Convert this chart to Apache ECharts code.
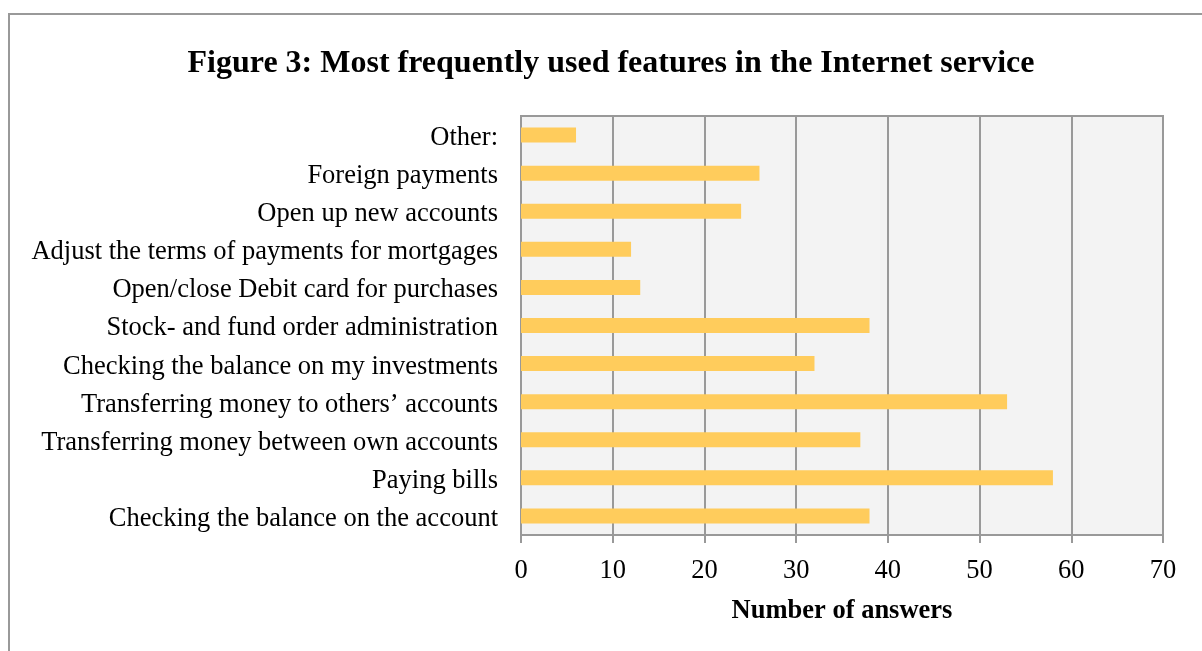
<!DOCTYPE html>
<html><head><meta charset="utf-8">
<script src="https://cdn.jsdelivr.net/npm/echarts@6/dist/echarts.min.js"></script>
<style>html,body{margin:0;padding:0;background:#fff}#c{width:1202px;height:651px}</style>
</head><body><div id="c"></div>
<script>
const categories = [
  "Checking the balance on the account",
  "Paying bills",
  "Transferring money between own accounts",
  "Transferring money to others\u2019 accounts",
  "Checking the balance on my investments",
  "Stock- and fund order administration",
  "Open/close Debit card for purchases",
  "Adjust the terms of payments for mortgages",
  "Open up new accounts",
  "Foreign payments",
  "Other:"
];
const answers = [38, 58, 37, 53, 32, 38, 13, 12, 24, 26, 6];
const xTicks = { min: 0, max: 70, interval: 10 };

const font = "'Liberation Serif', 'Times New Roman', serif";
const chart = echarts.init(document.getElementById('c'), null, { renderer: 'canvas' });
chart.setOption({
  animation: false,
  backgroundColor: '#fff',
  graphic: [{
    type: 'rect', z: -1,
    shape: { x: 9, y: 14, width: 1300, height: 700 },
    style: { fill: 'none', stroke: '#999', lineWidth: 2 }
  }],
  title: {
    text: 'Figure 3: Most frequently used features in the Internet service',
    left: 606, top: 43, textAlign: 'center',
    textStyle: { fontFamily: font, fontSize: 32, fontWeight: 'bold', color: '#000' }
  },
  grid: { left: 521, right: 39, top: 116, bottom: 116, show: true, backgroundColor: '#f3f3f3', borderColor: '#999', borderWidth: 2 },
  xAxis: {
    type: 'value', min: xTicks.min, max: xTicks.max, interval: xTicks.interval,
    name: 'Number of answers', nameLocation: 'middle', nameGap: 63,
    nameTextStyle: { fontFamily: font, fontSize: 26.5, fontWeight: 'bold', color: '#000' },
    axisLine: { show: true, lineStyle: { color: '#999', width: 2 } },
    axisTick: { show: true, length: 8, lineStyle: { color: '#999', width: 2 } },
    axisLabel: { fontFamily: font, fontSize: 26.5, color: '#000', margin: 23 },
    splitLine: { show: true, lineStyle: { color: '#999', width: 2 } }
  },
  yAxis: {
    type: 'category', data: categories,
    axisLine: { show: true, lineStyle: { color: '#999', width: 2 } },
    axisTick: { show: false },
    axisLabel: {
      margin: 23,
      formatter: function (v) { return '{a|' + v + '}'; },
      rich: { a: { fontFamily: font, fontSize: 26.5, color: '#000', padding: [6, 0, 0, 0] } }
    }
  },
  series: [{
    type: 'bar', data: answers, barWidth: 15,
    itemStyle: { color: '#ffcc5c' }
  }]
});
</script></body></html>
